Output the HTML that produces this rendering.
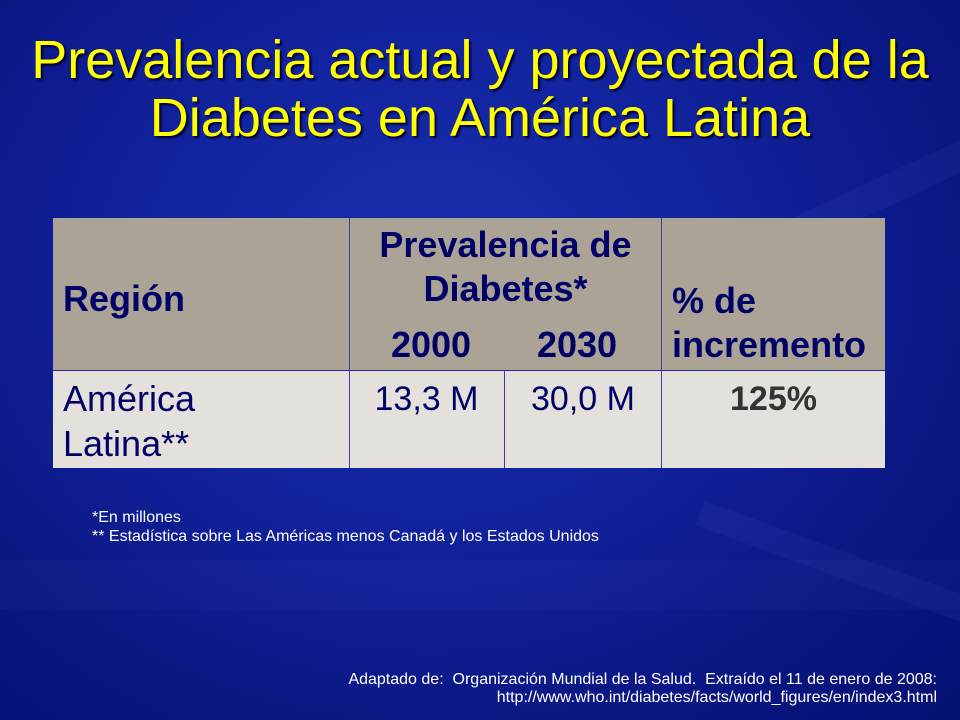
<!DOCTYPE html>
<html><head><meta charset="utf-8"><style>
body{margin:0;width:960px;height:720px;overflow:hidden;font-family:"Liberation Sans",sans-serif;}
#slide{position:relative;width:960px;height:720px;overflow:hidden;
background:radial-gradient(ellipse at 45% 38%,#1a2eac 0%,#1224a0 35%,#0a1682 75%,#061072 100%);}
.streak{position:absolute;background:rgba(120,150,255,0.06);transform-origin:left center;}
.t{position:absolute;white-space:nowrap;}
.title{color:#ffff00;font-size:54px;text-align:center;left:0;width:960px;line-height:54px;text-shadow:2px 2px 2px #000030;}
.h{color:#000066;font-weight:bold;font-size:36px;line-height:36px;}
.b{color:#000066;font-size:36px;line-height:36px;}
.foot{color:#fff;font-size:16px;line-height:16px;}
</style></head><body>
<div id="slide">
<div class="streak" style="left:620px;top:300px;width:500px;height:30px;transform:rotate(-25deg)"></div>
<div class="streak" style="left:700px;top:500px;width:400px;height:26px;transform:rotate(20deg)"></div>
<div class="streak" style="left:0px;top:560px;width:960px;height:50px;background:rgba(120,150,255,0.04)"></div>

<div class="t title" style="top:33px">Prevalencia actual y proyectada de la</div>
<div class="t title" style="top:91px">Diabetes en América Latina</div>

<div style="position:absolute;left:53px;top:218px;width:832px;height:250px;">
<div style="position:absolute;left:0;top:0;width:832px;height:152px;background:#aba396;"></div>
<div style="position:absolute;left:0;top:152px;width:832px;height:98px;background:#e4e0db;border-top:1px solid #2a2aa0;box-sizing:border-box;"></div>
<div style="position:absolute;left:296px;top:0;width:1px;height:250px;background:#3a3aa8"></div>
<div style="position:absolute;left:451px;top:152px;width:1px;height:98px;background:#3a3aa8"></div>
<div style="position:absolute;left:608px;top:0;width:1px;height:250px;background:#3a3aa8"></div>
</div>

<div class="t h" style="left:63px;top:281px">Región</div>
<div class="t h" style="left:349px;width:313px;text-align:center;top:227px">Prevalencia de</div>
<div class="t h" style="left:349px;width:313px;text-align:center;top:271px">Diabetes*</div>
<div class="t h" style="left:381px;width:100px;text-align:center;top:327px">2000</div>
<div class="t h" style="left:527px;width:100px;text-align:center;top:327px">2030</div>
<div class="t h" style="left:672px;top:283px">% de</div>
<div class="t h" style="left:672px;top:327px">incremento</div>

<div class="t b" style="left:63px;top:381px">América</div>
<div class="t b" style="left:63px;top:426px">Latina**</div>
<div class="t b" style="left:349px;width:155px;text-align:center;top:381px;font-size:34px">13,3 M</div>
<div class="t b" style="left:504px;width:158px;text-align:center;top:381px;font-size:34px">30,0 M</div>
<div class="t b" style="left:662px;width:223px;text-align:center;top:381px;font-weight:bold;color:#333;font-size:34px">125%</div>

<div class="t foot" style="left:92px;top:510px">*En millones</div>
<div class="t foot" style="left:92px;top:529px">** Estadística sobre Las Américas menos Canadá y los Estados Unidos</div>
<div class="t foot" style="right:23px;top:672px;text-align:right">Adaptado de:&nbsp; Organización Mundial de la Salud.&nbsp; Extraído el 11 de enero de 2008:</div>
<div class="t foot" style="right:23px;top:690px;text-align:right">http://www.who.int/diabetes/facts/world_figures/en/index3.html</div>
</div>
</body></html>
